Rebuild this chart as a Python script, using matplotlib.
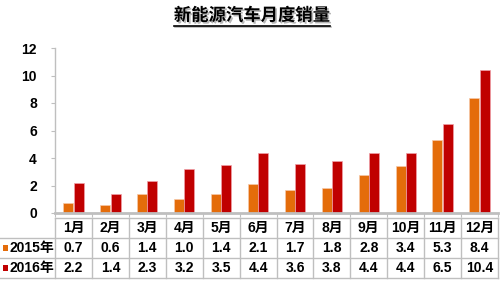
import matplotlib
matplotlib.use("Agg")
import matplotlib.pyplot as plt
import matplotlib.patheffects as pe
from matplotlib.lines import Line2D
from matplotlib.patches import Rectangle
import matplotlib.transforms as mtransforms
import numpy as np

plt.rcParams['font.family'] = ['Liberation Sans', 'Noto Sans CJK SC', 'DejaVu Sans']

title = "新能源汽车月度销量"
months = ["1月", "2月", "3月", "4月", "5月", "6月", "7月", "8月", "9月", "10月", "11月", "12月"]
series_names = ["2015年", "2016年"]
sales_2015 = [0.7, 0.6, 1.4, 1.0, 1.4, 2.1, 1.7, 1.8, 2.8, 3.4, 5.3, 8.4]
sales_2016 = [2.2, 1.4, 2.3, 3.2, 3.5, 4.4, 3.6, 3.8, 4.4, 4.4, 6.5, 10.4]
y_ticks = [0, 2, 4, 6, 8, 10, 12]

c15 = "#E46C0A"
c16 = "#C00000"
grid_c = "#BFBFBF"

W, H = 504, 284
fig = plt.figure(figsize=(W / 100, H / 100), dpi=100)
fig.patch.set_facecolor("white")

def fx(px):
    return px / W

def fy(py):
    return 1 - py / H

ax_left, ax_right, ax_top, ax_bot = 55, 498, 48, 213
ax = fig.add_axes([fx(ax_left), fy(ax_bot), fx(ax_right - ax_left), fy(ax_top) - fy(ax_bot)])

n = len(months)
x = np.arange(n) + 0.5
bw = 0.27
ax.bar(x - 0.14, sales_2015, width=bw, color=c15, edgecolor="#F6C9A8", linewidth=0.5)
ax.bar(x + 0.14, sales_2016, width=bw, color=c16, edgecolor="#F0A0A8", linewidth=0.5)

ax.set_xlim(0, n)
ax.set_ylim(0, 12)
ax.set_yticks(y_ticks)
ax.set_yticklabels([str(v) for v in y_ticks], fontsize=10, fontweight="bold")
ax.tick_params(axis="y", length=3, color=grid_c, pad=10)
ax.set_xticks(np.arange(n + 1))
ax.set_xticklabels([])
ax.tick_params(axis="x", length=3, color=grid_c, direction="out")
for s in ["top", "right"]:
    ax.spines[s].set_visible(False)
ax.spines["left"].set_color(grid_c)
ax.spines["left"].set_linewidth(1)
ax.spines["bottom"].set_color(grid_c)
ax.spines["bottom"].set_linewidth(2)

# table
tr = mtransforms.blended_transform_factory(ax.transData, fig.transFigure)
rows_px = [218, 238, 258, 278]
lc = "#BFBFBF"
# horizontal lines
fig.add_artist(Line2D([fx(ax_left), fx(ax_right)], [fy(218), fy(218)], color=lc, lw=1))
for py in rows_px[1:]:
    fig.add_artist(Line2D([fx(0), fx(ax_right)], [fy(py), fy(py)], color=lc, lw=1))
# vertical lines
for i in range(n + 1):
    fig.add_artist(Line2D([i, i], [fy(218), fy(278)], color=lc, lw=1, transform=tr))

fs = 10
for i, m in enumerate(months):
    fig.text(i + 0.5, fy(228), m, transform=tr, ha="center", va="center",
             fontsize=fs, fontweight="bold")
    fig.text(i + 0.5, fy(248), f"{sales_2015[i]:.1f}", transform=tr, ha="center",
             va="center", fontsize=fs, fontweight="bold")
    fig.text(i + 0.5, fy(268), f"{sales_2016[i]:.1f}", transform=tr, ha="center",
             va="center", fontsize=fs, fontweight="bold")

for name, col, py in [(series_names[0], c15, 248), (series_names[1], c16, 268)]:
    fig.add_artist(Rectangle((fx(3), fy(py + 3)), fx(5), fy(py - 3) - fy(py + 3),
                             facecolor=col, edgecolor="none", transform=fig.transFigure))
    fig.text(fx(10), fy(py), name, ha="left", va="center", fontsize=fs, fontweight="bold")

# title with underline and shadow
shadow = [pe.SimplePatchShadow(offset=(1.2, -1.2), shadow_rgbFace="#888888", alpha=0.6), pe.Normal()]
t = fig.text(0.5, fy(15), title, ha="center", va="center", fontsize=12.5,
             fontweight="bold", path_effects=shadow)
fig.add_artist(Line2D([fx(174), fx(330)], [fy(26), fy(26)], color="black", lw=1.2,
                      path_effects=[pe.SimpleLineShadow(offset=(1, -1), shadow_color="#888888", alpha=0.6), pe.Normal()]))

fig.savefig("out.png", dpi=100)
